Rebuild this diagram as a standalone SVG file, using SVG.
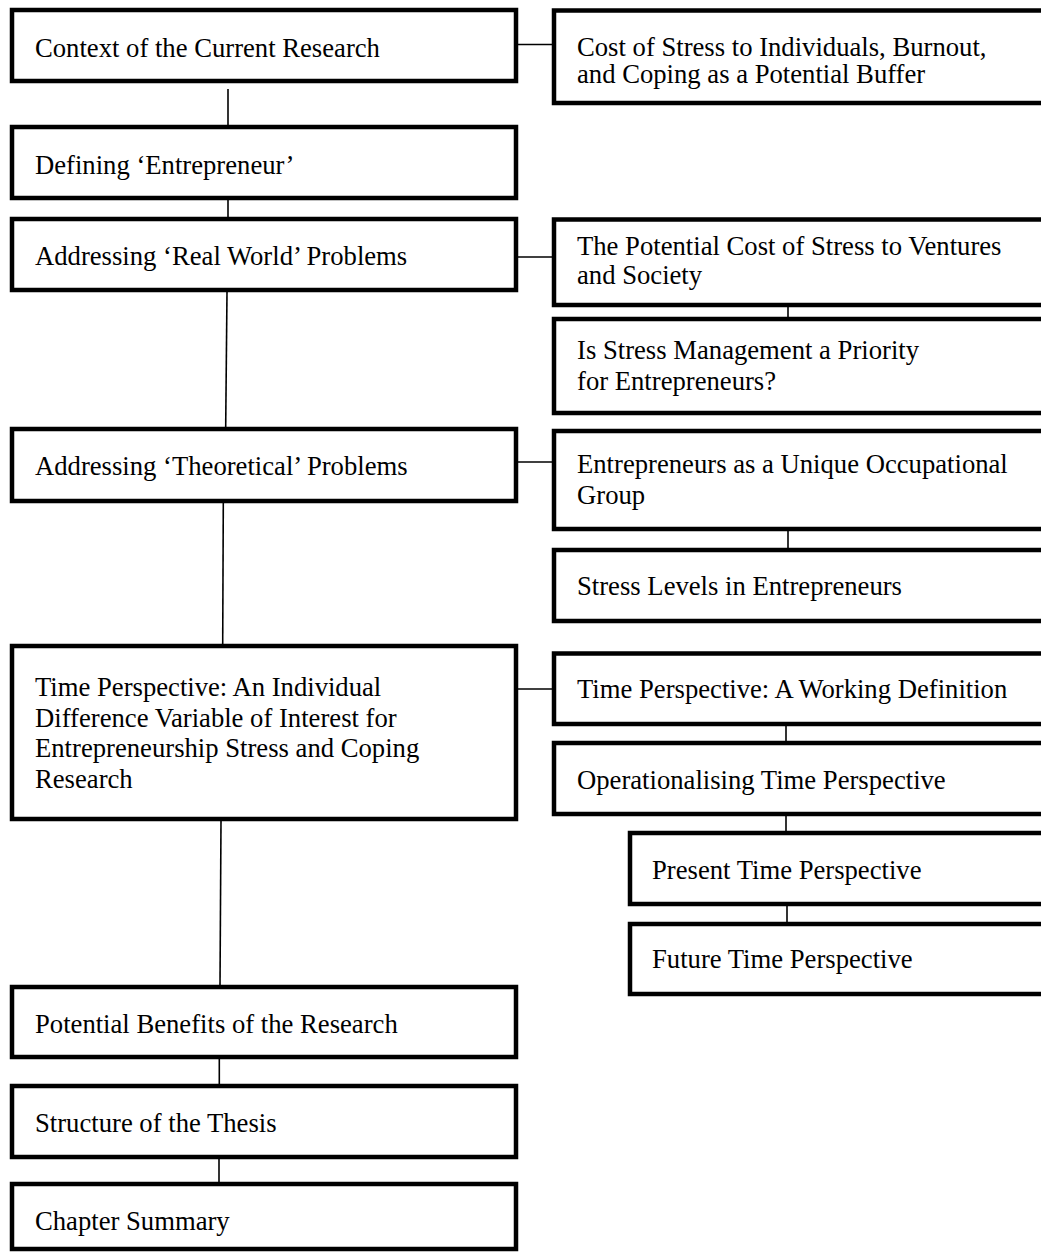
<svg xmlns="http://www.w3.org/2000/svg" width="1041" height="1253" viewBox="0 0 1041 1253">
<style>
.box{fill:#fff;stroke:#000;stroke-width:4.5}
.t{font-family:"Liberation Serif","Times New Roman",serif;font-size:26.67px;fill:#000}
.c{stroke:#000;stroke-width:1.6;fill:none}
</style>
<rect width="1041" height="1253" fill="#fff"/>
<g id="connectors">
<line class="c" x1="228" y1="89" x2="228" y2="125"/>
<line class="c" x1="228" y1="200" x2="228" y2="217"/>
<line class="c" x1="227" y1="292" x2="225.7" y2="427"/>
<line class="c" x1="223.3" y1="503" x2="222.7" y2="644"/>
<line class="c" x1="221" y1="821" x2="220" y2="985"/>
<line class="c" x1="219.3" y1="1059" x2="219.3" y2="1084"/>
<line class="c" x1="219" y1="1159" x2="219" y2="1182"/>
<line class="c" x1="518" y1="44.5" x2="552" y2="44.5"/>
<line class="c" x1="518" y1="257" x2="552" y2="257"/>
<line class="c" x1="518" y1="462" x2="552" y2="462"/>
<line class="c" x1="518" y1="689" x2="552" y2="689"/>
<line class="c" x1="788" y1="307" x2="788" y2="317"/>
<line class="c" x1="788" y1="531" x2="788" y2="548"/>
<line class="c" x1="786" y1="726" x2="786" y2="741"/>
<line class="c" x1="786" y1="816" x2="786" y2="831"/>
<line class="c" x1="787" y1="906" x2="787" y2="922"/>
</g>
<g id="nodeA"><rect class="box" x="12" y="10" width="504" height="71"/><text class="t" x="35" y="57">Context of the Current Research</text></g>
<g id="nodeB"><rect class="box" x="12" y="127" width="504" height="71"/><text class="t" x="35" y="174">Defining ‘Entrepreneur’</text></g>
<g id="nodeC"><rect class="box" x="12" y="219" width="504" height="71"/><text class="t" x="35" y="265">Addressing ‘Real World’ Problems</text></g>
<g id="nodeD"><rect class="box" x="12" y="429" width="504" height="72"/><text class="t" x="35" y="475">Addressing ‘Theoretical’ Problems</text></g>
<g id="nodeE"><rect class="box" x="12" y="646" width="504" height="173"/><text class="t" x="35" y="696">Time Perspective: An Individual</text><text class="t" x="35" y="726.5">Difference Variable of Interest for</text><text class="t" x="35" y="757">Entrepreneurship Stress and Coping</text><text class="t" x="35" y="787.5">Research</text></g>
<g id="nodeF"><rect class="box" x="12" y="987" width="504" height="70"/><text class="t" x="35" y="1033">Potential Benefits of the Research</text></g>
<g id="nodeG"><rect class="box" x="12" y="1086" width="504" height="71"/><text class="t" x="35" y="1132">Structure of the Thesis</text></g>
<g id="nodeH"><rect class="box" x="12" y="1184" width="504" height="65"/><text class="t" x="35" y="1230">Chapter Summary</text></g>
<g id="nodeR1"><rect class="box" x="554" y="10.5" width="560" height="92.5"/><text class="t" x="577" y="56">Cost of Stress to Individuals, Burnout,</text><text class="t" x="577" y="83">and Coping as a Potential Buffer</text></g>
<g id="nodeR2"><rect class="box" x="554" y="219.5" width="560" height="85.5"/><text class="t" x="577" y="255">The Potential Cost of Stress to Ventures</text><text class="t" x="577" y="284">and Society</text></g>
<g id="nodeR3"><rect class="box" x="554" y="319" width="560" height="94"/><text class="t" x="577" y="359">Is Stress Management a Priority</text><text class="t" x="577" y="390">for Entrepreneurs?</text></g>
<g id="nodeR4"><rect class="box" x="554" y="431" width="560" height="98"/><text class="t" x="577" y="473">Entrepreneurs as a Unique Occupational</text><text class="t" x="577" y="504">Group</text></g>
<g id="nodeR5"><rect class="box" x="554" y="550" width="560" height="71"/><text class="t" x="577" y="595">Stress Levels in Entrepreneurs</text></g>
<g id="nodeR6"><rect class="box" x="554" y="653.5" width="560" height="70.5"/><text class="t" x="577" y="698">Time Perspective: A Working Definition</text></g>
<g id="nodeR7"><rect class="box" x="554" y="743" width="560" height="71"/><text class="t" x="577" y="789">Operationalising Time Perspective</text></g>
<g id="nodeR8"><rect class="box" x="630" y="833" width="480" height="71"/><text class="t" x="652" y="879">Present Time Perspective</text></g>
<g id="nodeR9"><rect class="box" x="630" y="924" width="480" height="70"/><text class="t" x="652" y="968">Future Time Perspective</text></g>
</svg>
